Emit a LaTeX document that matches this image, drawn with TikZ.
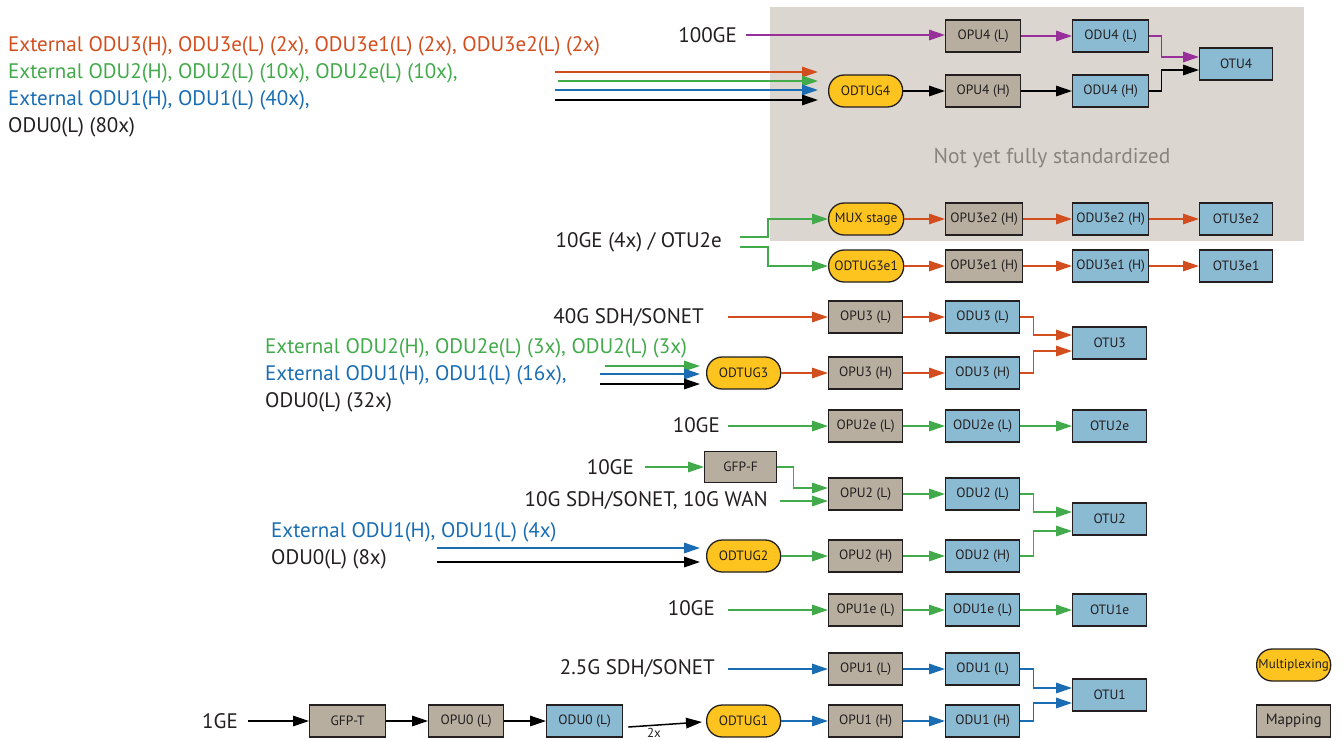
\documentclass[tikz,border=0pt]{standalone}
\usepackage{fontspec}
\setmainfont{PT Sans}
\usetikzlibrary{arrows.meta,calc}
\definecolor{ored}{HTML}{D24E1E}
\definecolor{ogreen}{HTML}{42AA4A}
\definecolor{oblue}{HTML}{1A6DB3}
\definecolor{opurple}{HTML}{98309A}
\definecolor{mapc}{HTML}{B7AE9F}
\definecolor{oduc}{HTML}{8BBAD3}
\definecolor{muxc}{HTML}{FDC31E}
\definecolor{bgc}{HTML}{DCD6D0}
\definecolor{txtc}{HTML}{231F20}
\definecolor{nysc}{HTML}{8A847D}
\tikzset{
  base/.style={draw=txtc, line width=1.3pt, minimum height=32pt, minimum width=75pt, inner sep=1pt, anchor=west,
    font=\fontsize{13.5}{15}\selectfont, text=txtc},
  mapbox/.style={base, fill=mapc},
  odubox/.style={base, fill=oduc},
  muxbox/.style={base, fill=muxc, rounded corners=15.5pt},
  lbl/.style={font=\fontsize{21}{24}\selectfont, text=txtc, inner sep=0pt},
  arr/.style={line width=1.5pt, -{Triangle[length=16pt,width=10.5pt]}},
}
\begin{document}
\begin{tikzpicture}[x=1pt,y=-1pt]
\useasboundingbox (0,0) rectangle (1344,740);
\fill[bgc] (770,7) rectangle (1304,241);
\node[font=\fontsize{21.5}{24}\selectfont, text=nysc] (nys) at (1052,158) {Not yet fully standardized};

% ---- top-left texts
\node[lbl, anchor=west, text=ored] (e3) at (8,46) {External ODU3(H), ODU3e(L) (2x), ODU3e1(L) (2x), ODU3e2(L) (2x)};
\node[lbl, anchor=west, text=ogreen] (e2) at (8,73) {External ODU2(H), ODU2(L) (10x), ODU2e(L) (10x),};
\node[lbl, anchor=west, text=oblue] (e1) at (8,100) {External ODU1(H), ODU1(L) (40x),};
\node[lbl, anchor=west] (e0) at (8,127) {ODU0(L) (80x)};

% ---- OTU4
\node[lbl, anchor=east] (t100) at (737,35) {100GE};
\node[mapbox] (opu4l) at (945,36) {OPU4 (L)};
\node[odubox, minimum width=76pt] (odu4l) at (1072,36) {ODU4 (L)};
\node[odubox, minimum width=73pt] (otu4) at (1199,64) {OTU4};
\node[muxbox, minimum width=74pt] (odtug4) at (828,91) {ODTUG4};
\node[mapbox] (opu4h) at (945,91) {OPU4 (H)};
\node[odubox, minimum width=76pt] (odu4h) at (1072,91) {ODU4 (H)};

\coordinate (p100) at (746,35);
\draw[arr, opurple] (p100) -- (p100 -| opu4l.west);
\draw[arr, opurple] (opu4l) -- (odu4l);
\draw[arr, opurple] (odu4l.east) -- ++(12,0) |- ([yshift=7pt]otu4.west);
\draw[arr] (odtug4) -- (opu4h);
\draw[arr] (opu4h) -- (odu4h);
\draw[arr] (odu4h.east) -- ++(12,0) |- ([yshift=-6pt]otu4.west);
\coordinate (a4o) at (555,72);
\coordinate (a4g) at (558,81);
\coordinate (a4b) at (555,90);
\coordinate (a4k) at (555,100);
\draw[arr, ored] (a4o) -- ([xshift=-10pt]a4o -| odtug4.west);
\draw[arr, ogreen] (a4g) -- ([xshift=-10pt]a4g -| odtug4.west);
\draw[arr, oblue] (a4b) -- ([xshift=-10pt]a4b -| odtug4.west);
\draw[arr] (a4k) -- ([xshift=-10pt]a4k -| odtug4.west);

% ---- OTU3e2 / OTU3e1
\node[lbl, anchor=east] (t3e) at (722,242) {10GE (4x) / OTU2e};
\node[muxbox] (mux) at (828,219) {MUX stage};
\node[mapbox, minimum width=77pt] (opu3e2) at (945,219) {OPU3e2 (H)};
\node[odubox, minimum width=76pt] (odu3e2) at (1072,219) {ODU3e2 (H)};
\node[odubox, minimum width=73pt] (otu3e2) at (1199,219) {OTU3e2};
\node[muxbox] (odtug3e1) at (828,266) {ODTUG3e1};
\node[mapbox, minimum width=77pt] (opu3e1) at (945,266) {OPU3e1 (H)};
\node[odubox, minimum width=76pt] (odu3e1) at (1072,266) {ODU3e1 (H)};
\node[odubox, minimum width=73pt] (otu3e1) at (1199,266) {OTU3e1};
\coordinate (g1) at (740,237);
\coordinate (g2) at (740,247);
\draw[arr, ogreen] (g1) -- (768,237) |- (mux.west);
\draw[arr, ogreen] (g2) -- (768,247) |- (odtug3e1.west);
\draw[arr, ored] (mux) -- (opu3e2);
\draw[arr, ored] (opu3e2) -- (odu3e2);
\draw[arr, ored] (odu3e2) -- (otu3e2);
\draw[arr, ored] (odtug3e1) -- (opu3e1);
\draw[arr, ored] (opu3e1) -- (odu3e1);
\draw[arr, ored] (odu3e1) -- (otu3e1);

% ---- OTU3
\node[lbl, anchor=east] (t40) at (704,317) {40G SDH/SONET};
\node[mapbox, minimum width=74pt] (opu3l) at (828,317) {OPU3 (L)};
\node[odubox, minimum width=74pt] (odu3l) at (945,317) {ODU3 (L)};
\node[odubox, minimum width=74pt] (otu3) at (1072,343) {OTU3};
\node[muxbox, minimum width=74pt] (odtug3) at (706,373) {ODTUG3};
\node[mapbox, minimum width=74pt] (opu3h) at (828,373) {OPU3 (H)};
\node[odubox, minimum width=74pt] (odu3h) at (945,373) {ODU3 (H)};
\node[lbl, anchor=west, text=ogreen] (f2) at (265,348) {External ODU2(H), ODU2e(L) (3x), ODU2(L) (3x)};
\node[lbl, anchor=west, text=oblue] (f1) at (265,375) {External ODU1(H), ODU1(L) (16x),};
\node[lbl, anchor=west] (f0) at (265,402) {ODU0(L) (32x)};
\coordinate (p40) at (728,317);
\draw[arr, ored] (p40) -- (opu3l.west);
\draw[arr, ored] (opu3l) -- (odu3l);
\draw[arr, ored] (odu3l.east) -- ++(13,0) |- ([yshift=8pt]otu3.west);
\draw[arr, ored] (odtug3) -- (opu3h);
\draw[arr, ored] (opu3h) -- (odu3h);
\draw[arr, ored] (odu3h.east) -- ++(13,0) |- ([yshift=-8pt]otu3.west);
\coordinate (a3g) at (605,366);
\coordinate (a3b) at (600,374);
\coordinate (a3k) at (600,384);
\draw[arr, ogreen] (a3g) -- ([xshift=-6pt]a3g -| odtug3.west);
\draw[arr, oblue] (a3b) -- ([xshift=-6pt]a3b -| odtug3.west);
\draw[arr] (a3k) -- ([xshift=-6pt]a3k -| odtug3.west);

% ---- OTU2e
\node[lbl, anchor=east] (t2e) at (720,425) {10GE};
\node[mapbox, minimum width=74pt] (opu2e) at (828,426) {OPU2e (L)};
\node[odubox, minimum width=74pt] (odu2e) at (945,426) {ODU2e (L)};
\node[odubox, minimum width=74pt] (otu2e) at (1072,426) {OTU2e};
\coordinate (p2e) at (728,426);
\draw[arr, ogreen] (p2e) -- (opu2e.west);
\draw[arr, ogreen] (opu2e) -- (odu2e);
\draw[arr, ogreen] (odu2e) -- (otu2e);

% ---- OTU2
\node[lbl, anchor=east] (t10f) at (634,467) {10GE};
\node[mapbox, minimum width=72pt, minimum height=31pt] (gfpf) at (704,467) {GFP-F};
\node[lbl, anchor=east] (t10s) at (768,501) {10G SDH/SONET, 10G WAN};
\node[mapbox, minimum width=74pt] (opu2l) at (828,494) {OPU2 (L)};
\node[odubox, minimum width=74pt] (odu2l) at (945,494) {ODU2 (L)};
\node[odubox, minimum width=74pt] (otu2) at (1072,519) {OTU2};
\node[muxbox, minimum width=74pt] (odtug2) at (706,556) {ODTUG2};
\node[mapbox, minimum width=74pt] (opu2h) at (828,556) {OPU2 (H)};
\node[odubox, minimum width=74pt] (odu2h) at (945,556) {ODU2 (H)};
\node[lbl, anchor=west, text=oblue] (h1) at (271,532) {External ODU1(H), ODU1(L) (4x)};
\node[lbl, anchor=west] (h0) at (271,559) {ODU0(L) (8x)};
\coordinate (p10f) at (645,467);
\coordinate (p10s) at (780,501);
\draw[arr, ogreen] (p10f) -- (gfpf.west);
\draw[arr, ogreen] (gfpf.east) -- ++(16,0) |- ([yshift=6pt]opu2l.west);
\draw[arr, ogreen] (p10s) -- (p10s -| opu2l.west);
\draw[arr, ogreen] (opu2l) -- (odu2l);
\draw[arr, ogreen] (odu2l.east) -- ++(13,0) |- ([yshift=7pt]otu2.west);
\draw[arr, ogreen] (odtug2) -- (opu2h);
\draw[arr, ogreen] (opu2h) -- (odu2h);
\draw[arr, ogreen] (odu2h.east) -- ++(13,0) |- ([yshift=-12pt]otu2.west);
\coordinate (a2b) at (437,548);
\coordinate (a2k) at (437,562);
\draw[arr, oblue] (a2b) -- ([xshift=-6pt]a2b -| odtug2.west);
\draw[arr] (a2k) -- ([xshift=-6pt]a2k -| odtug2.west);

% ---- OTU1e
\node[lbl, anchor=east] (t1e) at (715,608) {10GE};
\node[mapbox, minimum width=74pt] (opu1e) at (828,610) {OPU1e (L)};
\node[odubox, minimum width=74pt] (odu1e) at (945,610) {ODU1e (L)};
\node[odubox, minimum width=74pt] (otu1e) at (1072,610) {OTU1e};
\coordinate (p1e) at (728,610);
\draw[arr, ogreen] (p1e) -- (opu1e.west);
\draw[arr, ogreen] (opu1e) -- (odu1e);
\draw[arr, ogreen] (odu1e) -- (otu1e);

% ---- OTU1
\node[lbl, anchor=east] (t25) at (715,668) {2.5G SDH/SONET};
\node[mapbox, minimum width=74pt] (opu1l) at (828,669) {OPU1 (L)};
\node[odubox, minimum width=74pt] (odu1l) at (945,669) {ODU1 (L)};
\node[odubox, minimum width=74pt] (otu1) at (1072,695) {OTU1};
\node[lbl, anchor=east] (t1g) at (238,721) {1GE};
\node[mapbox, minimum width=76pt] (gfpt) at (309,721) {GFP-T};
\node[mapbox, minimum width=75pt] (opu0l) at (428,721) {OPU0 (L)};
\node[odubox, minimum width=76pt] (odu0l) at (546,721) {ODU0 (L)};
\node[muxbox, minimum width=74pt] (odtug1) at (706,721) {ODTUG1};
\node[mapbox, minimum width=74pt] (opu1h) at (828,721) {OPU1 (H)};
\node[odubox, minimum width=74pt] (odu1h) at (945,721) {ODU1 (H)};
\coordinate (p25) at (728,669);
\coordinate (p1g) at (248,721);
\draw[arr, oblue] (p25) -- (opu1l.west);
\draw[arr, oblue] (opu1l) -- (odu1l);
\draw[arr, oblue] (odu1l.east) -- ++(13,0) |- ([yshift=7pt]otu1.west);
\draw[arr] (p1g) -- (gfpt.west);
\draw[arr] (gfpt) -- (opu0l);
\draw[arr] (opu0l) -- (odu0l);
\draw[arr] ([xshift=5pt,yshift=-6pt]odu0l.east) -- ([xshift=-4pt,yshift=-1pt]odtug1.west);
\node[font=\fontsize{13}{15}\selectfont, text=txtc, anchor=north, inner sep=0pt] (two) at (654,728) {2x};
\draw[arr, oblue] (odtug1) -- (opu1h);
\draw[arr, oblue] (opu1h) -- (odu1h);
\draw[arr, oblue] (odu1h.east) -- ++(13,0) |- ([yshift=-8pt]otu1.west);

% ---- legend
\node[muxbox, minimum width=74pt, font=\fontsize{13}{15}\selectfont, inner sep=0pt] (legm) at (1256,665) {Multiplexing};
\node[mapbox, minimum width=74pt, font=\fontsize{15}{17}\selectfont] (legp) at (1256,721) {Mapping};
\end{tikzpicture}
\end{document}
